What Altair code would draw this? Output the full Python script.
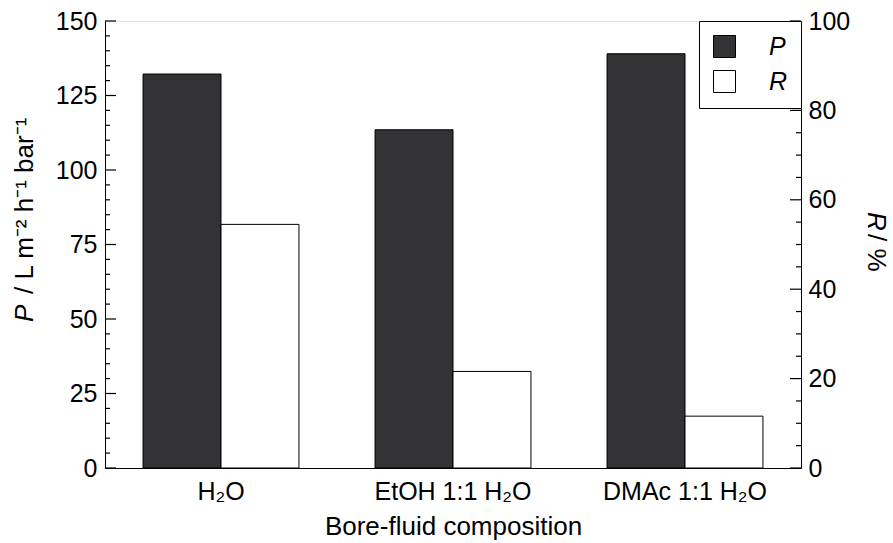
import altair as alt
import pandas as pd

# ---- data ----
categories = ["H₂O", "EtOH 1:1 H₂O", "DMAc 1:1 H₂O"]
p_values = [132.2, 113.5, 139.0]      # permeance, left axis
r_values = [54.5, 21.6, 11.6]         # rejection %, right axis
series = ["P", "R"]
p_major = [0, 25, 50, 75, 100, 125, 150]
p_minor = [5, 10, 15, 20, 30, 35, 40, 45, 55, 60, 65, 70, 80, 85, 90, 95,
           105, 110, 115, 120, 130, 135, 140, 145]
r_major = [0, 20, 40, 60, 80, 100]
r_minor = [5, 10, 15, 25, 30, 35, 45, 50, 55, 65, 70, 75, 85, 90, 95]

W, H = 696, 447
FONT = "Liberation Sans"
DARK = "#333335"
LBL = 25
TTL = 26

df_p = pd.DataFrame({"cat": categories, "val": p_values, "series": "P"})
df_r = pd.DataFrame({"cat": categories, "val": r_values, "series": "R"})

x_enc = alt.X(
    "cat:N", sort=categories,
    scale=alt.Scale(domain=categories, paddingInner=0.328, paddingOuter=0.164),
    axis=alt.Axis(title="Bore-fluid composition", labelAngle=0, ticks=False,
                  labelPadding=11, titlePadding=9, labelFontSize=LBL,
                  titleFontSize=TTL, titleFontWeight="normal", titleFont=FONT,
                  labelFont=FONT, domainColor="black", labelColor="black",
                  titleColor="black"),
)
xo_enc = alt.XOffset("series:N", scale=alt.Scale(domain=series, paddingInner=0, paddingOuter=0))
color_enc = alt.Color(
    "series:N",
    scale=alt.Scale(domain=series, range=[DARK, "#ffffff"]),
    legend=alt.Legend(title=None, orient="top-right", offset=0, padding=13,
                      strokeColor="black", fillColor="white",
                      symbolType="square", symbolSize=484,
                      symbolStrokeColor="black", symbolStrokeWidth=1,
                      symbolOpacity=1,
                      labelFontSize=LBL, labelFontStyle="italic", labelFont=FONT,
                      labelColor="black", labelOffset=32, rowPadding=8),
)

p_scale = alt.Scale(domain=[0, 150], nice=False, zero=True)
r_scale = alt.Scale(domain=[0, 100], nice=False, zero=True)

def y_axis(orient, values, pad):
    return alt.Axis(orient=orient, values=values, ticks=False, title=None,
                    labelPadding=pad, grid=False, domainColor="black",
                    labelColor="black", labelFont=FONT, labelFontSize=LBL)

p_axis = y_axis("left", p_major, 8)
r_axis = y_axis("right", r_major, 7)

p_bars = alt.Chart(df_p).mark_bar(stroke="black", strokeWidth=1, opacity=1).encode(
    x=x_enc, xOffset=xo_enc, color=color_enc,
    y=alt.Y("val:Q", scale=p_scale, axis=p_axis),
)
p_maj = alt.Chart(pd.DataFrame({"val": p_major})).mark_rule(color="black", strokeWidth=1.2).encode(
    y=alt.Y("val:Q", scale=p_scale, axis=p_axis), x=alt.value(0), x2=alt.value(11))
p_min = alt.Chart(pd.DataFrame({"val": p_minor})).mark_rule(color="black", strokeWidth=1.2).encode(
    y=alt.Y("val:Q", scale=p_scale, axis=p_axis), x=alt.value(0), x2=alt.value(5))

r_bars = alt.Chart(df_r).mark_bar(stroke="black", strokeWidth=1, opacity=1).encode(
    x=x_enc, xOffset=xo_enc, color=color_enc,
    y=alt.Y("val:Q", scale=r_scale, axis=r_axis),
)
r_maj = alt.Chart(pd.DataFrame({"val": r_major})).mark_rule(color="black", strokeWidth=1.2).encode(
    y=alt.Y("val:Q", scale=r_scale, axis=r_axis), x=alt.value(W - 11), x2=alt.value(W))
r_min = alt.Chart(pd.DataFrame({"val": r_minor})).mark_rule(color="black", strokeWidth=1.2).encode(
    y=alt.Y("val:Q", scale=r_scale, axis=r_axis), x=alt.value(W - 5), x2=alt.value(W))

def label(txt, x, y, angle, italic):
    kw = dict(angle=angle, align="left", baseline="middle", fontSize=TTL,
              font=FONT, color="black")
    if italic:
        kw["fontStyle"] = "italic"
    return alt.Chart(pd.DataFrame({"t": [txt]})).mark_text(**kw).encode(
        text="t:N", x=alt.value(x), y=alt.value(y))

titles = alt.layer(
    label("P", -80, 301, 270, True),
    label("/ L m⁻² h⁻¹ bar⁻¹", -80, 273, 270, False),
    label("R", 771, 191, 90, True),
    label("/ %", 771, 213, 90, False),
)

left = alt.layer(p_bars, p_maj, p_min)
right = alt.layer(r_bars, r_maj, r_min)

chart = alt.layer(left, right, titles).resolve_scale(y="independent").properties(
    width=W, height=H,
    autosize=alt.AutoSizeParams(type="none"),
    padding={"left": 105, "top": 21, "right": 92, "bottom": 75},
).configure_view(stroke="black", strokeWidth=1).configure_axis(
    domainColor="black", domainWidth=1, labelColor="black", titleColor="black",
    labelFont=FONT, titleFont=FONT, labelFontSize=LBL, titleFontSize=TTL,
    titleFontWeight="normal",
).configure(background="white")

chart.save("out.html", embed_options={"renderer": "svg", "actions": False})
